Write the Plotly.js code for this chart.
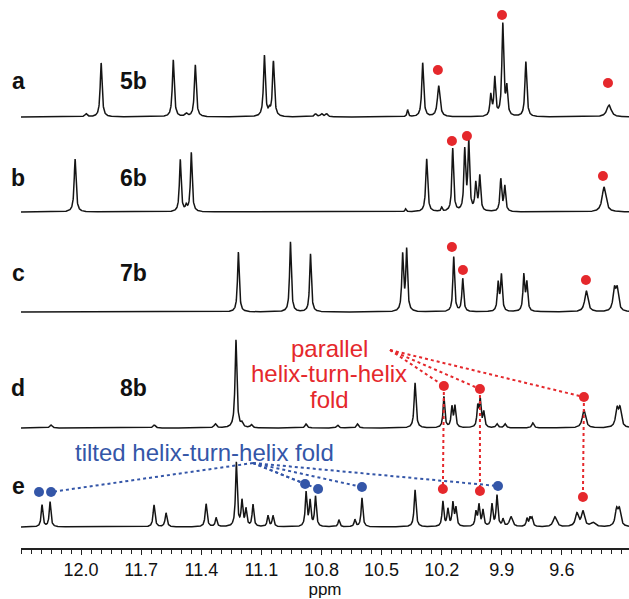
<!DOCTYPE html>
<html><head><meta charset="utf-8">
<script src="https://cdn.plot.ly/plotly-3.0.1.min.js"></script>
<style>html,body{margin:0;padding:0;background:#fff;}#plot{width:629px;height:599px;}</style>
</head><body><div id="plot"></div>
<script>
// ---- data (ppm, peak height, half-width) ----
var spectrumNames = ['a','b','c','d','e'];
var compoundNames = ['5b','6b','7b','8b',''];
var baselineOffsets = [431, 336, 236, 120, 21];

var aPpm    = [11.975,11.90,11.54,11.475,11.43,11.085,11.06,11.04,10.83,10.80,10.775,10.37,10.295,10.215,9.955,9.935,9.895,9.875,9.78,9.365];
var aHeight = [3,54,57,3,52,61,5,55,3,3,3,7,54,31,21,38,92,27,55,12];
var aWidth  = [.007,.0055,.0055,.007,.0055,.0055,.005,.0055,.007,.007,.007,.004,.0055,.0075,.005,.005,.0055,.005,.0055,.013];

var bPpm    = [12.03,11.505,11.475,11.45,10.38,10.275,10.2,10.145,10.085,10.065,10.03,10.01,9.905,9.885,9.39];
var bHeight = [53,52,5,59,3,53,4,63,60,69,27,35,32,25,25];
var bWidth  = [.0055,.005,.005,.005,.004,.0055,.004,.005,.005,.005,.005,.005,.005,.005,.011];

var cPpm    = [11.215,10.955,10.855,10.395,10.375,10.14,10.095,9.918,9.902,9.79,9.775,9.478,9.338,9.324];
var cHeight = [60,70,58,56,61,55,33,28,36,36,28,21,21,21];
var cWidth  = [.005,.005,.005,.005,.005,.005,.005,.005,.005,.005,.005,.0095,.008,.008];

var dPpm    = [12.15,11.635,11.33,11.227,11.197,11.15,10.877,10.72,10.62,10.333,10.189,10.149,10.134,10.02,10.008,9.99,9.924,9.884,9.745,9.49,9.325,9.31];
var dHeight = [3,3,4,88,4,3,4,3,4,45,31,20,21,20,27,15,4,4,5,18,18,18];
var dWidth  = [.007,.007,.007,.0055,.006,.006,.006,.006,.006,.0055,.005,.005,.005,.005,.005,.005,.006,.006,.006,.0095,.008,.008];

var ePpm    = [12.195,12.155,11.636,11.576,11.376,11.326,11.225,11.197,11.177,11.142,11.067,11.042,10.877,10.857,10.83,10.713,10.633,10.598,10.333,10.194,10.169,10.144,10.129,10.029,10.014,9.994,9.949,9.924,9.894,9.854,9.774,9.759,9.749,9.635,9.525,9.495,9.445,9.327,9.313];
var eHeight = [22,25,22,14,23,9,64,25,17,22,11,11,34,25,30,7,7,29,37,25,17,23,18,14,21,16,22,31,7,10,8,8,8,10,13,15,4,16,16];
var eWidth  = [.005,.005,.0055,.0055,.0055,.005,.005,.005,.005,.005,.005,.005,.005,.005,.005,.005,.005,.005,.0055,.005,.005,.005,.005,.005,.005,.005,.005,.005,.005,.009,.005,.005,.005,.01,.009,.009,.013,.008,.008];

// marker dots (ppm, vertical position)
var redDotPpm = [10.219,9.899,9.370, 10.149,10.074,9.395, 10.149,10.094,9.480, 10.189,10.009,9.490, 10.194,10.009,9.495];
var redDotY   = [478,533,465, 407,412,372, 301,278,268, 162,159,151, 59,57,51];
var blueDotPpm = [12.210,12.150,10.882,10.817,10.598,9.919];
var blueDotY   = [56,56,64,59,61,62];

// annotation leader lines
var redHub = [10.458, 198];
var redTargets = [9, 10, 11];
var redDrops = [[9,12],[10,13],[11,14]];
var blueHub = [11.142, 85];
var blueTargets = [1, 2, 3, 4, 5];

var tickLabels = ['12.0','11.7','11.4','11.1','10.8','10.5','10.2','9.9','9.6'];
var tickVals = [12.0,11.7,11.4,11.1,10.8,10.5,10.2,9.9,9.6];

// ---- build ----
var peaks = [[aPpm,aHeight,aWidth],[bPpm,bHeight,bWidth],[cPpm,cHeight,cWidth],[dPpm,dHeight,dWidth],[ePpm,eHeight,eWidth]];
var X0 = 12.30, X1 = 9.265;
var grid = [];
for (var v = X0; v >= X1 - 1e-9; v -= 0.001) grid.push(+v.toFixed(4));

var traces = [];
peaks.forEach(function(p, k){
  var ys = grid.map(function(x){
    var s = 0;
    for (var i=0;i<p[0].length;i++){
      var w = p[2][i], d = x - p[0][i];
      s += p[1][i] * w*w/(d*d + w*w);
    }
    return s + baselineOffsets[k];
  });
  traces.push({x:grid, y:ys, type:'scatter', mode:'lines', line:{color:'#151515', width:1.5}, hoverinfo:'skip', showlegend:false});
});

var RED = '#e5282c', BLUE = '#3456a8';
redTargets.forEach(function(i){
  traces.push({x:[redHub[0], redDotPpm[i]], y:[redHub[1], redDotY[i]], mode:'lines', type:'scatter',
    line:{color:RED, width:2, dash:'dot'}, showlegend:false, hoverinfo:'skip'});
});
redDrops.forEach(function(pr){
  traces.push({x:[redDotPpm[pr[0]], redDotPpm[pr[1]]], y:[redDotY[pr[0]], redDotY[pr[1]]], mode:'lines', type:'scatter',
    line:{color:RED, width:2, dash:'dot'}, showlegend:false, hoverinfo:'skip'});
});
blueTargets.forEach(function(i){
  traces.push({x:[blueHub[0], blueDotPpm[i]], y:[blueHub[1], blueDotY[i]], mode:'lines', type:'scatter',
    line:{color:BLUE, width:2, dash:'dot'}, showlegend:false, hoverinfo:'skip'});
});
traces.push({x:redDotPpm, y:redDotY, mode:'markers', type:'scatter', marker:{color:RED, size:10}, showlegend:false, hoverinfo:'skip'});
traces.push({x:blueDotPpm, y:blueDotY, mode:'markers', type:'scatter', marker:{color:BLUE, size:10}, showlegend:false, hoverinfo:'skip'});

function px(x){ return (x-21)/608; }
function py(y){ return (548-y)/548; }
var ann = [];
var labelY = [81, 178, 273, 388, 486];
spectrumNames.forEach(function(n,k){
  ann.push({text:'<b>'+n+'</b>', xref:'paper', yref:'paper', x:px(18), y:py(labelY[k]), xanchor:'center', yanchor:'middle', showarrow:false,
    font:{family:'Liberation Sans, Arial, sans-serif', size:23, color:'#111'}});
  if (compoundNames[k]) ann.push({text:'<b>'+compoundNames[k]+'</b>', xref:'paper', yref:'paper', x:px(133), y:py(labelY[k]), xanchor:'center', yanchor:'middle', showarrow:false,
    font:{family:'Liberation Sans, Arial, sans-serif', size:23, color:'#111'}});
});
var redLines = ['parallel','helix-turn-helix','fold'];
var redY = [348, 373, 399];
redLines.forEach(function(t,i){
  ann.push({text:t, xref:'paper', yref:'paper', x:px(329), y:py(redY[i]), xanchor:'center', yanchor:'middle', showarrow:false,
    font:{family:'Liberation Sans, Arial, sans-serif', size:24, color:RED}});
});
ann.push({text:'tilted helix-turn-helix fold', xref:'paper', yref:'paper', x:px(73), y:py(452), xanchor:'left', yanchor:'middle', showarrow:false,
  font:{family:'Liberation Sans, Arial, sans-serif', size:24, color:BLUE}});

var layout = {
  width:629, height:599,
  margin:{l:21, r:0, t:0, b:51},
  paper_bgcolor:'#fff', plot_bgcolor:'#fff',
  xaxis:{range:[X0, X1], showgrid:false, zeroline:false, showline:true, linecolor:'#222', linewidth:1.5,
    ticks:'outside', ticklen:5, tickwidth:1, tickcolor:'#222',
    tickvals:tickVals, ticktext:tickLabels,
    minor:{dtick:0.05, tick0:12.0, ticks:'outside', ticklen:4, tickwidth:1, tickcolor:'#222'},
    tickfont:{family:'Liberation Sans, Arial, sans-serif', size:18, color:'#111'},
    title:{text:'ppm', font:{family:'Liberation Sans, Arial, sans-serif', size:17, color:'#111'}, standoff:2}},
  yaxis:{range:[0,548], visible:false, fixedrange:true},
  annotations:ann,
  showlegend:false
};
Plotly.newPlot('plot', traces, layout, {staticPlot:true, displayModeBar:false});
</script></body></html>
